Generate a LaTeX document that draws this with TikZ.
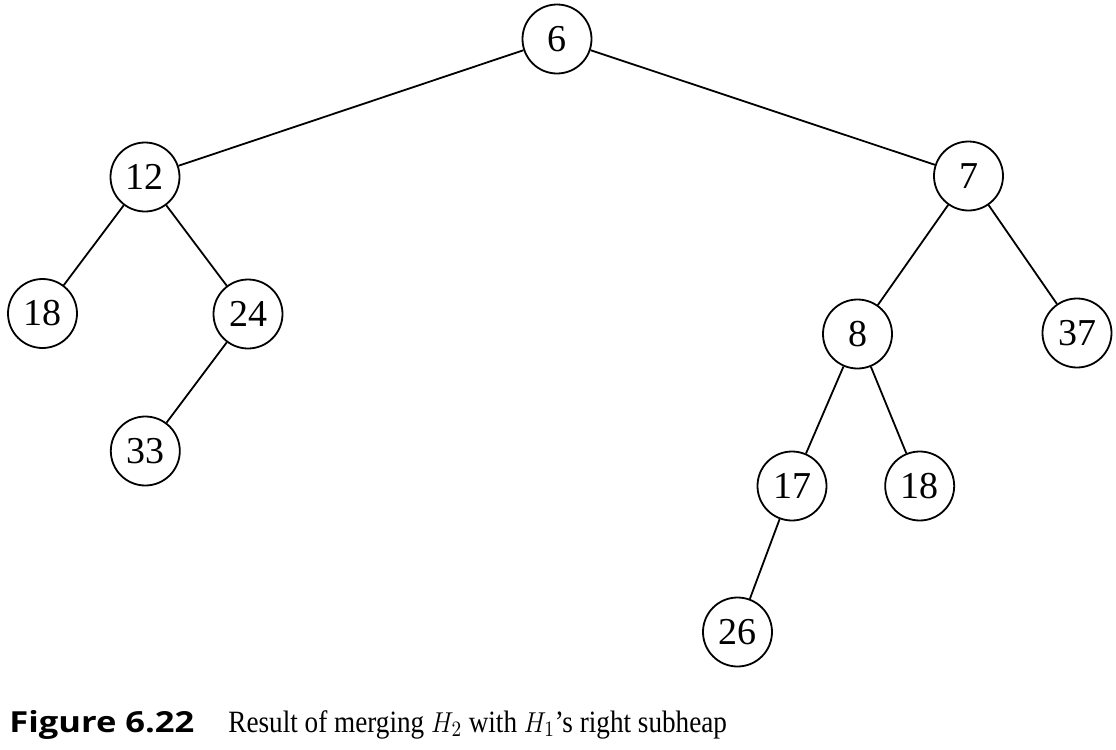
\documentclass[tikz,border=0pt]{standalone}
\usepackage{fontspec}
\setmainfont{Liberation Serif}
\newfontfamily\figfont{Open Sans}
\usepackage{graphicx}
\usepackage{tikz}

\begin{document}
\begin{tikzpicture}[x=0.5pt,y=-0.5pt,
    hnode/.style={draw,circle,line width=0.9pt,minimum size=34.5pt,inner sep=0pt,font=\fontsize{19}{21}\selectfont},
    hedge/.style={line width=0.9pt}]
    \useasboundingbox (0,0) rectangle (1116,750);
    % root
    \node[hnode] (n6) at (557,39) {6};
    % left subheap
    \node[hnode] (n12) at (145,177) {12};
    \node[hnode] (n18a) at (42.5,313.5) {18};
    \node[hnode] (n24) at (248,314) {24};
    \node[hnode] (n33) at (145.3,451) {33};
    % right subheap
    \node[hnode] (n7) at (968.5,176) {7};
    \node[hnode] (n8) at (857.5,334) {8};
    \node[hnode] (n37) at (1077,333) {37};
    \node[hnode] (n17) at (792,486) {17};
    \node[hnode] (n18b) at (919.7,486) {18};
    \node[hnode] (n26) at (737.5,632) {26};
    \draw[hedge] (n6)--(n12);
    \draw[hedge] (n6)--(n7);
    \draw[hedge] (n12)--(n18a);
    \draw[hedge] (n12)--(n24);
    \draw[hedge] (n24)--(n33);
    \draw[hedge] (n7)--(n8);
    \draw[hedge] (n7)--(n37);
    \draw[hedge] (n8)--(n17);
    \draw[hedge] (n8)--(n18b);
    \draw[hedge] (n17)--(n26);
    % caption
    \node[anchor=base west,inner sep=0pt,font=\figfont\bfseries\fontsize{14.5}{18}\selectfont] (fig) at (9,732) {\scalebox{1.19}[1]{Figure 6.22}};
    \node[anchor=base west,inner sep=0pt,font=\fontsize{15.5}{18}\selectfont] (cap) at (228,732) {\scalebox{0.877}[1]{Result of merging $H_2$ with $H_1$'s right subheap}};
\end{tikzpicture}
\end{document}
